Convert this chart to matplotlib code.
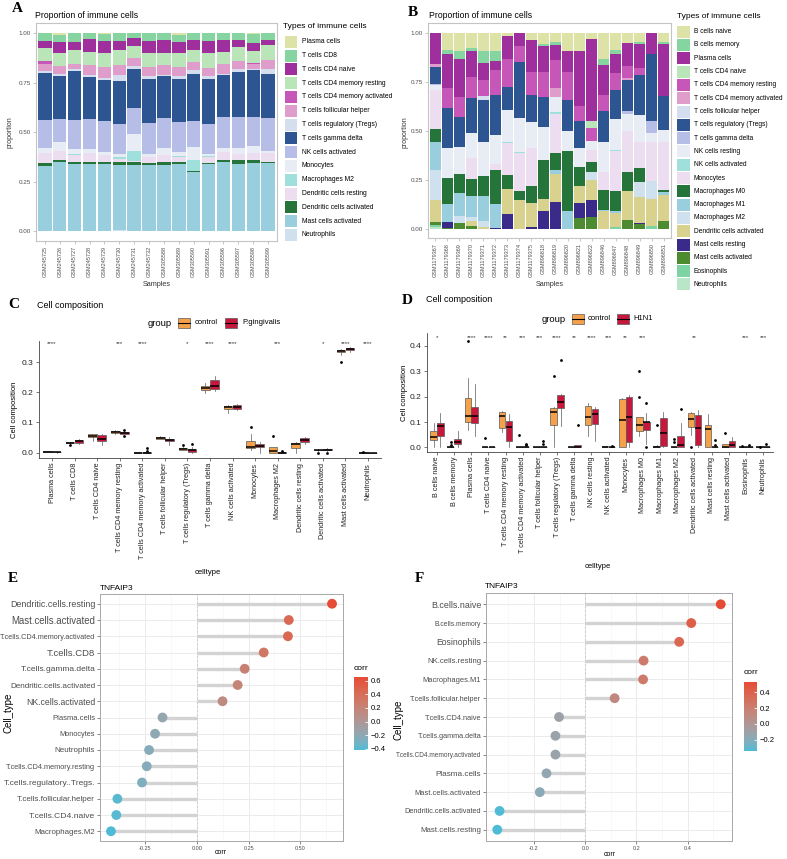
import numpy as np
import matplotlib
matplotlib.use('Agg')
import matplotlib.pyplot as plt
from matplotlib.patches import Rectangle
from matplotlib.colors import LinearSegmentedColormap, Normalize, to_rgb
from matplotlib.cm import ScalarMappable

plt.rcParams['font.family'] = ['Liberation Sans', 'DejaVu Sans']

W, H = 787, 859

# ---------------- data: panel A (stacked proportions) ----------------
a_samples = ['GSM245725', 'GSM245726', 'GSM245727', 'GSM245728', 'GSM245729', 'GSM245730',
             'GSM245731', 'GSM245732', 'GSM305588', 'GSM305589', 'GSM305590', 'GSM305591',
             'GSM305596', 'GSM305597', 'GSM305598', 'GSM305599']
a_types = ['Plasma cells', 'T cells CD8', 'T cells CD4 naive', 'T cells CD4 memory resting',
           'T cells CD4 memory activated', 'T cells follicular helper', 'T cells regulatory (Tregs)',
           'T cells gamma delta', 'NK cells activated', 'Monocytes', 'Macrophages M2',
           'Dendritic cells resting', 'Dendritic cells activated', 'Mast cells activated', 'Neutrophils']
a_plasma = [0, .008, 0, 0, .005, 0, 0, 0, 0, .007, 0, 0, 0, 0, .005, 0]
a_cd8 = [.042, .034, .045, .034, .035, .040, .025, .040, .034, .035, .034, .040, .037, .034, .045, .037]
a_cd4_naive = [.037, .059, .042, .062, .060, .044, .037, .060, .067, .059, .054, .059, .059, .037, .040, .025]
a_cd4_mem_rest = [.065, .065, .067, .069, .070, .079, .062, .070, .062, .070, .059, .075, .062, .070, .060, .076]
a_cd4_mem_act = [.015, 0, 0, 0, 0, 0, 0, 0, 0, 0, 0, 0, 0, 0, .003, 0]
a_tfh = [.035, .039, .029, .049, .054, .050, .042, .047, .047, .047, .042, .044, .047, .042, .027, .042]
a_treg = [.008, .013, .010, .012, .010, .029, .013, .012, .008, .013, .020, .012, .008, .013, .007, .029]
a_gd = [.239, .216, .243, .210, .208, .218, .196, .221, .213, .216, .235, .227, .210, .227, .238, .223]
a_nk_act = [.139, .114, .149, .151, .156, .151, .134, .159, .151, .151, .131, .154, .156, .156, .143, .164]
a_mono = [.028, .045, .025, .022, .017, .013, .084, .013, .034, .020, .064, .010, .020, .032, .035, .012]
a_m2 = [0, 0, .005, 0, 0, .013, .050, 0, 0, .005, .057, .003, 0, 0, 0, 0]
a_dc_rest = [.051, .047, .035, .042, .035, .015, .008, .030, .035, .029, 0, .034, .039, .030, .037, .042]
a_dc_act = [.011, .012, .012, .012, .008, .015, .015, .010, .013, .008, .008, .003, .013, .020, .013, .005]
a_mast_act = [.331, .347, .337, .339, .340, .326, .332, .336, .336, .339, .297, .339, .349, .339, .346, .346]
a_neut = [0, 0, 0, 0, 0, .007, 0, 0, 0, 0, 0, 0, 0, 0, 0, 0]

# ---------------- data: panel B ----------------
b_samples = ['GSM1179367', 'GSM1179368', 'GSM1179369', 'GSM1179370', 'GSM1179371', 'GSM1179372',
             'GSM1179373', 'GSM1179374', 'GSM1179375', 'GSM896818', 'GSM896819', 'GSM896820',
             'GSM896821', 'GSM896822', 'GSM896846', 'GSM896847', 'GSM896848', 'GSM896849',
             'GSM896850', 'GSM896851']
b_types = ['B cells naive', 'B cells memory', 'Plasma cells', 'T cells CD4 naive',
           'T cells CD4 memory resting', 'T cells CD4 memory activated', 'T cells follicular helper',
           'T cells regulatory (Tregs)', 'T cells gamma delta', 'NK cells resting', 'NK cells activated',
           'Monocytes', 'Macrophages M0', 'Macrophages M1', 'Macrophages M2',
           'Dendritic cells activated', 'Mast cells resting', 'Mast cells activated',
           'Eosinophils', 'Neutrophils']
b_b_naive = [0, .09, .095, .08, .095, .095, .015, 0, .035, .06, .045, .095, .095, .03, .135, .09, .055, .045, 0, .045]
b_b_mem = [0, .02, .04, .015, .06, .05, 0, 0, 0, .01, .02, 0, 0, 0, .03, .02, 0, .015, 0, .015]
b_plasma = [.16, .17, .195, .13, .085, .045, .12, .07, .165, .13, .075, .105, .28, .42, .155, .095, .115, .12, .11, .265]
b_cd4_naive = [0, 0, 0, 0, 0, 0, 0, 0, 0, 0, 0, 0, 0, .035, 0, 0, 0, 0, 0, 0]
b_cd4_mem_rest = [0, .105, .10, .11, .085, .13, .14, .08, .12, .13, .14, .145, .075, .065, .08, .085, .06, .035, 0, 0]
b_cd4_mem_act = [.015, 0, 0, 0, 0, 0, 0, 0, 0, 0, .05, 0, 0, 0, 0, 0, .01, 0, 0, 0]
b_tfh = [0, 0, 0, 0, .02, 0, 0, 0, 0, 0, 0, 0, 0, 0, 0, 0, 0, 0, 0, 0]
b_treg = [.085, .205, .155, .175, .215, .20, .12, .285, .135, .15, 0, .155, .14, 0, .16, .15, .16, .205, .34, .17]
b_gd = [.005, 0, 0, 0, 0, 0, 0, 0, 0, 0, 0, 0, 0, 0, 0, 0, .015, 0, .06, 0]
b_nk_rest = [.025, .15, .135, .13, .17, .15, .165, .175, .135, .17, .075, .105, .095, .05, .15, .16, .085, .14, .05, .065]
b_nk_act = [0, 0, 0, 0, 0, 0, .005, .005, 0, 0, .01, 0, 0, 0, 0, .005, 0, 0, 0, 0]
b_mono = [.20, 0, 0, .105, 0, .03, .16, .195, .19, 0, .20, 0, 0, .06, .09, .205, .21, .13, .195, .24]
b_m0 = [.07, .135, .10, .09, .105, .175, .07, .045, .09, .20, .085, .305, .095, .05, .105, .10, .10, .07, 0, .015]
b_m1 = [.14, .09, .115, .105, .125, .12, 0, 0, 0, 0, .02, .09, 0, 0, .005, .01, 0, 0, 0, .015]
b_m2 = [.155, 0, .035, .02, .03, 0, 0, 0, 0, 0, 0, 0, 0, .04, 0, 0, 0, .08, .095, 0]
b_dc_act = [.11, 0, 0, .025, .01, 0, .13, .145, .12, .06, .145, 0, .09, .105, .09, .07, .145, .13, .135, .13]
b_mast_rest = [0, .03, 0, 0, 0, .005, .075, 0, .01, .09, .135, 0, .075, .085, 0, 0, 0, .005, 0, 0]
b_mast_act = [.015, .005, .03, .015, 0, 0, 0, 0, 0, 0, 0, 0, .055, .06, 0, 0, .045, .025, 0, .04]
b_eos = [.01, 0, 0, 0, 0, 0, 0, 0, 0, 0, 0, 0, 0, 0, 0, .01, 0, 0, .015, 0]
b_neut = [.01, 0, 0, 0, 0, 0, 0, 0, 0, 0, 0, 0, 0, 0, 0, 0, 0, 0, 0, 0]

# ---------------- data: panel C (box stats, control vs P.gingivalis) ----------------
c_cells = a_types
c_ctrl_med = [.003, .033, .055, .069, 0, .049, .012, .214, .151, .020, .005, .027, .008, .336, 0]
c_ctrl_q1 = [.002, .032, .050, .065, 0, .046, .010, .208, .146, .015, 0, .015, .007, .333, 0]
c_ctrl_q3 = [.005, .035, .060, .071, .001, .052, .015, .220, .155, .040, .020, .032, .010, .339, .001]
c_ctrl_lo = [.001, .030, .040, .060, 0, .044, .008, .198, .130, .010, 0, 0, .005, .325, 0]
c_ctrl_hi = [.006, .036, .062, .075, .001, .054, .017, .232, .158, .060, .020, .036, .012, .342, .001]
c_ctrl_out = [[], [.025], [], [], [], [], [.025], [], [], [.084], [.055], [], [0], [.302], [.003]]
c_pg_med = [.002, .038, .045, .066, 0, .042, .007, .222, .152, .022, 0, .042, .010, .345, 0]
c_pg_q1 = [.001, .033, .037, .063, 0, .037, .003, .210, .146, .017, 0, .035, .009, .340, 0]
c_pg_q3 = [.003, .043, .058, .068, .001, .046, .012, .240, .158, .030, .001, .048, .012, .348, 0]
c_pg_lo = [0, .030, .025, .060, 0, .026, 0, .205, .140, 0, 0, .030, .006, .335, 0]
c_pg_hi = [.004, .046, .062, .070, .001, .050, .018, .255, .162, .035, .002, .052, .014, .350, 0]
c_pg_out = [[], [], [], [.076, .055], [.015, .005], [], [.028], [], [], [], [.006], [], [0], [], []]
c_sig = ['****', '', '', '***', '****', '', '*', '****', '****', '', '***', '', '*', '****', '****']

# ---------------- data: panel D (box stats, control vs H1N1) ----------------
d_cells = b_types
d_ctrl_med = [.040, 0, .125, 0, .122, 0, 0, .138, 0, .120, .002, .110, .090, 0, 0, .112, .072, 0, 0, 0]
d_ctrl_q1 = [.030, 0, .100, 0, .078, 0, 0, .090, 0, .090, 0, 0, .065, 0, 0, .082, .003, 0, 0, 0]
d_ctrl_q3 = [.065, .003, .195, 0, .140, 0, 0, .155, 0, .165, .005, .192, .120, .007, 0, .135, .088, .015, 0, 0]
d_ctrl_lo = [0, 0, .070, 0, .062, 0, 0, 0, 0, .045, 0, 0, .045, 0, 0, .050, 0, 0, 0, 0]
d_ctrl_hi = [.095, .005, .275, 0, .145, 0, 0, .160, 0, .175, .006, .195, .120, .010, 0, .140, .130, .015, 0, 0]
d_ctrl_out = [[], [.01, .02], [.42], [.037], [], [.05], [], [.28], [], [], [], [], [.2, .3], [.088],
              [.035, .02], [0], [], [.055], [.005], [.003]]
d_flu_med = [.085, .020, .122, 0, .082, 0, 0, .178, .002, .130, 0, .120, .100, .055, .010, .078, 0, .010, 0, 0]
d_flu_q1 = [.045, .015, .095, 0, .027, 0, 0, .155, 0, .092, 0, .022, .068, .005, 0, .010, 0, .002, 0, 0]
d_flu_q3 = [.095, .035, .160, 0, .105, 0, 0, .205, .008, .152, 0, .200, .102, .118, .045, .128, 0, .025, 0, 0]
d_flu_lo = [0, 0, .045, 0, 0, 0, 0, .085, 0, .025, 0, 0, .015, 0, 0, 0, 0, 0, 0, 0]
d_flu_hi = [.135, .065, .250, 0, .130, 0, 0, .210, .010, .160, 0, .205, .135, .140, .095, .148, 0, .040, 0, 0]
d_flu_out = [[], [], [], [], [], [.01, .013], [.012, .025], [.345], [.09], [], [.005], [], [.175, 0], [],
             [.152], [], [.01, .03], [], [.01], [.012]]
d_sig = ['*', '', '****', '****', '**', '***', '***', '****', '**', '****', '***', '**', '***', '', '',
         '**', '', '', '***', '***']

# ---------------- data: panels E and F (lollipop correlations) ----------------
e_cells = ['Dendritic.cells.resting', 'Mast.cells.activated', 'T.cells.CD4.memory.activated',
           'T.cells.CD8', 'T.cells.gamma.delta', 'Dendritic.cells.activated', 'NK.cells.activated',
           'Plasma.cells', 'Monocytes', 'Neutrophils', 'T.cells.CD4.memory.resting',
           'T.cells.regulatory..Tregs.', 'T.cells.follicular.helper', 'T.cells.CD4.naive', 'Macrophages.M2']
e_corr = [0.653, 0.444, 0.440, 0.323, 0.231, 0.197, 0.124, -0.166, -0.202, -0.231, -0.242,
          -0.265, -0.384, -0.389, -0.415]
f_cells = ['B.cells.naive', 'B.cells.memory', 'Eosinophils', 'NK.cells.resting', 'Macrophages.M1',
           'T.cells.follicular.helper', 'T.cells.CD4.naive', 'T.cells.gamma.delta',
           'T.cells.CD4.memory.activated', 'Plasma.cells', 'Mast.cells.activated',
           'Dendritic.cells.activated', 'Mast.cells.resting']
f_corr = [0.529, 0.414, 0.367, 0.228, 0.226, 0.115, -0.102, -0.116, -0.116, -0.151, -0.177, -0.334, -0.343]

# ---------------- style ----------------
pal = ['#DDE3A6', '#86D4A0', '#9E2F9C', '#B9E5B9', '#C657B8', '#DE9DCB', '#D4DEEF', '#2D5591',
       '#B6BDE6', '#E7ECF5', '#A0E0DC', '#EDDDF1', '#25743A', '#98CEDD', '#CFE1EE', '#D8D28E',
       '#3A2B8A', '#4C8B2F', '#7DD3A2', '#B9E6C6']
col_ctrl = '#F5A04A'
col_pg = '#C8173D'
grey_txt = '#4D4D4D'

# gradient low -> high interpolated in CIELAB like ggplot's scale_colour_gradient
M_XYZ = np.array([[0.4124, 0.3576, 0.1805], [0.2126, 0.7152, 0.0722], [0.0193, 0.1192, 0.9505]])
WHITE = np.array([0.95047, 1.0, 1.08883])


def hex2lab(h):
    rgb = np.array(to_rgb(h))
    lin = np.where(rgb <= 0.04045, rgb / 12.92, ((rgb + 0.055) / 1.055) ** 2.4)
    xyz = M_XYZ @ lin / WHITE
    f = np.where(xyz > 0.008856, np.cbrt(xyz), 7.787 * xyz + 16 / 116)
    return np.array([116 * f[1] - 16, 500 * (f[0] - f[1]), 200 * (f[1] - f[2])])


def lab2rgb(lab):
    fy = (lab[0] + 16) / 116
    f = np.array([fy + lab[1] / 500, fy, fy - lab[2] / 200])
    xyz = np.where(f ** 3 > 0.008856, f ** 3, (f - 16 / 116) / 7.787) * WHITE
    lin = np.linalg.solve(M_XYZ, xyz)
    lin = np.clip(lin, 0, None)
    rgb = np.where(lin <= 0.0031308, 12.92 * lin, 1.055 * lin ** (1 / 2.4) - 0.055)
    return np.clip(rgb, 0, 1)


lab_lo, lab_hi = hex2lab('#4DBBD5'), hex2lab('#E64B35')
cmap = LinearSegmentedColormap.from_list(
    'corr', [lab2rgb(lab_lo + (lab_hi - lab_lo) * t) for t in np.linspace(0, 1, 64)])

fig = plt.figure(figsize=(W / 100, H / 100), dpi=100)


def add_ax(l, t, r, b):
    return fig.add_axes([l / W, 1 - b / H, (r - l) / W, (b - t) / H])


ov = fig.add_axes([0, 0, 1, 1])
ov.set_xlim(0, W)
ov.set_ylim(H, 0)
ov.axis('off')


def stacked(ax, samples, series):
    x = np.arange(len(samples))
    bottom = np.zeros(len(samples))
    for vals, c in reversed(list(zip(series, pal))):
        ax.bar(x, vals, bottom=bottom, width=0.9, color=c, linewidth=0)
        bottom += np.array(vals)
    ax.set_xlim(-0.6, len(samples) - 0.4)
    ax.set_ylim(-0.05, 1.05)
    ax.set_xticks(x)
    ax.set_xticklabels(samples, rotation=90, fontsize=4, color=grey_txt)
    ax.set_yticks([0, .25, .5, .75, 1])
    ax.set_yticklabels(['0.00', '0.25', '0.50', '0.75', '1.00'], fontsize=4.5, color=grey_txt)
    ax.tick_params(color='#BDBDBD', length=2, width=0.6, pad=1.5)
    for s in ax.spines.values():
        s.set_color('#C4C4C4')
        s.set_linewidth(0.8)


axA = add_ax(36, 23.1, 277, 241.2)
stacked(axA, a_samples, [a_plasma, a_cd8, a_cd4_naive, a_cd4_mem_rest, a_cd4_mem_act, a_tfh, a_treg,
                         a_gd, a_nk_act, a_mono, a_m2, a_dc_rest, a_dc_act, a_mast_act, a_neut])
axB = add_ax(428, 22.9, 671, 238.5)
stacked(axB, b_samples, [b_b_naive, b_b_mem, b_plasma, b_cd4_naive, b_cd4_mem_rest, b_cd4_mem_act,
                         b_tfh, b_treg, b_gd, b_nk_rest, b_nk_act, b_mono, b_m0, b_m1, b_m2, b_dc_act,
                         b_mast_rest, b_mast_act, b_eos, b_neut])

# legends for A and B
ov.text(283, 27, 'Types of immune cells', fontsize=6, va='center')
for i, name in enumerate(a_types):
    y = 41.7 + i * 13.8
    ov.add_patch(Rectangle((285, y - 6), 12, 12, color=pal[i], lw=0))
    ov.text(302, y, name, fontsize=4.9, va='center')
ov.text(677, 16, 'Types of immune cells', fontsize=6, va='center')
for i, name in enumerate(b_types):
    y = 31.7 + i * 13.3
    ov.add_patch(Rectangle((677, y - 6), 13, 12, color=pal[i], lw=0))
    ov.text(694, y, name, fontsize=4.8, va='center')

for xx, txt in [(10, 'proportion'), (405, 'proportion')]:
    ov.text(xx, 132, txt, fontsize=5, rotation=90, ha='center', va='center', color='#333333')
ov.text(157, 285, 'Samples', fontsize=5.2, ha='center', va='center', color='#333333')
ov.text(550, 285, 'Samples', fontsize=5.2, ha='center', va='center', color='#333333')


def boxes(ax, cells, g1, g2, sig, ymax):
    n = len(cells)
    for (med, q1, q3, lo, hi, out), off, col in [(g1, -0.2, col_ctrl), (g2, 0.2, col_pg)]:
        stats = [dict(med=med[i], q1=q1[i], q3=q3[i], whislo=lo[i], whishi=hi[i], fliers=out[i])
                 for i in range(n)]
        ax.bxp(stats, positions=np.arange(n) + off, widths=0.38, patch_artist=True, showcaps=False,
               boxprops=dict(facecolor=col, edgecolor='#5A5A5A', linewidth=0.5),
               medianprops=dict(color='black', linewidth=1.1),
               whiskerprops=dict(color='#5A5A5A', linewidth=0.5),
               flierprops=dict(marker='o', markerfacecolor='black', markeredgecolor='none', markersize=2))
    for i, s in enumerate(sig):
        if s:
            ax.text(i, ymax, s, fontsize=4.5, ha='center', va='center', color='#333333')
    ax.set_xlim(-0.6, n - 0.4)
    ax.set_xticks(np.arange(n))
    ax.set_xticklabels(cells, rotation=90, fontsize=5.2, color='#222222')
    ax.spines['top'].set_visible(False)
    ax.spines['right'].set_visible(False)
    for s in ['left', 'bottom']:
        ax.spines[s].set_color('#444444')
        ax.spines[s].set_linewidth(0.6)
    ax.tick_params(color='#444444', length=2, width=0.5, pad=1.5)


axC = add_ax(38.5, 341, 381.5, 458)
boxes(axC, c_cells,
      (c_ctrl_med, c_ctrl_q1, c_ctrl_q3, c_ctrl_lo, c_ctrl_hi, c_ctrl_out),
      (c_pg_med, c_pg_q1, c_pg_q3, c_pg_lo, c_pg_hi, c_pg_out), c_sig, 0.36)
axC.set_ylim(-0.018, 0.37)
axC.set_yticks([0, .1, .2, .3])
axC.set_yticklabels(['0.0', '0.1', '0.2', '0.3'], fontsize=6, color='#222222')

axD = add_ax(426.7, 333.3, 773.3, 452)
boxes(axD, d_cells,
      (d_ctrl_med, d_ctrl_q1, d_ctrl_q3, d_ctrl_lo, d_ctrl_hi, d_ctrl_out),
      (d_flu_med, d_flu_q1, d_flu_q3, d_flu_lo, d_flu_hi, d_flu_out), d_sig, 0.435)
axD.set_ylim(-0.018, 0.45)
axD.set_yticks([0, .1, .2, .3, .4])
axD.set_yticklabels(['0.0', '0.1', '0.2', '0.3', '0.4'], fontsize=6, color='#222222')

ov.text(15, 410, 'Cell composition', fontsize=5.5, rotation=90, ha='center', va='center')
ov.text(405, 393, 'Cell composition', fontsize=5.5, rotation=90, ha='center', va='center')
ov.text(208, 572, 'celltype', fontsize=5.5, ha='center', va='center')
ov.text(598, 567, 'celltype', fontsize=5.5, ha='center', va='center')


def group_legend(xg, y, items):
    ov.text(xg, y, 'group', fontsize=6.8, va='center')
    for kx, tx, lab, col in items:
        ov.add_patch(Rectangle((kx, y - 5), 12, 10, facecolor=col, edgecolor='#5A5A5A', lw=0.5))
        ov.plot([kx, kx + 12], [y, y], color='black', lw=0.8)
        ov.text(tx, y, lab, fontsize=5.5, va='center')


group_legend(148, 323, [(178, 195, 'control', col_ctrl), (225, 242, 'P.gingivalis', col_pg)])
group_legend(542, 319, [(572, 588, 'control', col_ctrl), (617, 633, 'H1N1', col_pg)])


def lollipop(ax, cax, cells, corr, sizes, xlim, xticks, xlabels, cticks):
    n = len(cells)
    y = np.arange(n)[::-1]
    norm = Normalize(min(corr), max(corr))
    ax.hlines(y, 0, corr, color='#D3D3D3', lw=2.4, zorder=2)
    ax.scatter(corr, y, c=corr, cmap=cmap, norm=norm, s=50, zorder=3, edgecolors='none')
    ax.axvline(0, color='#C8C8C8', ls=(0, (3, 2)), lw=0.6, zorder=1.5)
    ax.set_xlim(*xlim)
    ax.set_ylim(-0.6, n - 0.4)
    ax.set_yticks(y)
    ax.set_yticklabels(cells, color=grey_txt)
    for lab, s in zip(ax.get_yticklabels(), sizes):
        lab.set_fontsize(s)
    ax.set_xticks(xticks)
    ax.set_xticklabels(xlabels, fontsize=4, color=grey_txt)
    step = xticks[1] - xticks[0]
    ax.set_xticks([t + step / 2 for t in [xticks[0] - step] + list(xticks)], minor=True)
    ax.grid(True, which='major', color='#EBEBEB', lw=0.7)
    ax.grid(True, which='minor', axis='x', color='#F3F3F3', lw=0.4)
    ax.set_axisbelow(True)
    ax.tick_params(which='major', color='#555555', length=2, width=0.5, pad=1.5)
    ax.tick_params(which='minor', length=0)
    for s in ax.spines.values():
        s.set_color('#A8A8A8')
        s.set_linewidth(0.7)
    cb = fig.colorbar(ScalarMappable(norm=norm, cmap=cmap), cax=cax)
    cb.outline.set_visible(False)
    cb.set_ticks(cticks)
    cb.set_ticklabels([('\u2212' if t < 0 else '') + '%.1f' % abs(t) for t in cticks])
    cax.tick_params(labelsize=5.5, length=2.5, color='white', direction='in', width=0.6, pad=2)


axE = add_ax(100, 594, 343, 841)
caxE = add_ax(354, 677, 368, 750)
e_sizes = [6.4, 6.9, 5.2, 6.8, 6.0, 5.9, 6.2, 5.5, 5.3, 5.8, 5.3, 6.0, 5.8, 6.1, 5.7]
lollipop(axE, caxE, e_cells, e_corr, e_sizes, (-0.468, 0.706), [-0.25, 0, 0.25, 0.5],
         ['-0.25', '0.00', '0.25', '0.50'], [0.6, 0.4, 0.2, 0.0, -0.2, -0.4])

axF = add_ax(486, 593, 732, 841)
caxF = add_ax(744, 682, 757, 751)
f_sizes = [6.4, 4.9, 6.2, 5.6, 5.4, 5.3, 5.3, 5.2, 4.7, 5.9, 5.4, 5.3, 5.7]
lollipop(axF, caxF, f_cells, f_corr, f_sizes, (-0.387, 0.573), [-0.2, 0, 0.2, 0.4],
         ['-0.2', '0.0', '0.2', '0.4'], [0.4, 0.2, 0.0, -0.2])

ov.text(8, 713, 'Cell_type', fontsize=7, rotation=90, ha='center', va='center')
ov.text(398, 720, 'Cell_type', fontsize=7, rotation=90, ha='center', va='center')
ov.text(221, 853, 'corr', fontsize=5, ha='center', va='center')
ov.text(610, 855, 'corr', fontsize=5, ha='center', va='center')
ov.text(354, 668, 'corr', fontsize=6, va='center')
ov.text(744, 672, 'corr', fontsize=6, va='center')

# titles
ov.text(35, 15, 'Proportion of immune cells', fontsize=6.2, va='center')
ov.text(429, 15, 'Proportion of immune cells', fontsize=6.2, va='center')
ov.text(37, 305, 'Cell composition', fontsize=6.5, va='center')
ov.text(426, 300, 'Cell composition', fontsize=6.5, va='center')
ov.text(100, 588, 'TNFAIP3', fontsize=6, va='center')
ov.text(485, 586, 'TNFAIP3', fontsize=6, va='center')

# panel letters
for xx, yy, lab in [(12, 9, 'A'), (408, 13, 'B'), (8, 305, 'C'), (402, 300, 'D'), (8, 579, 'E'), (415, 579, 'F')]:
    ov.text(xx, yy, lab, fontsize=11, fontweight='bold', family='Liberation Serif', va='center')

fig.savefig('out.png', dpi=100)
